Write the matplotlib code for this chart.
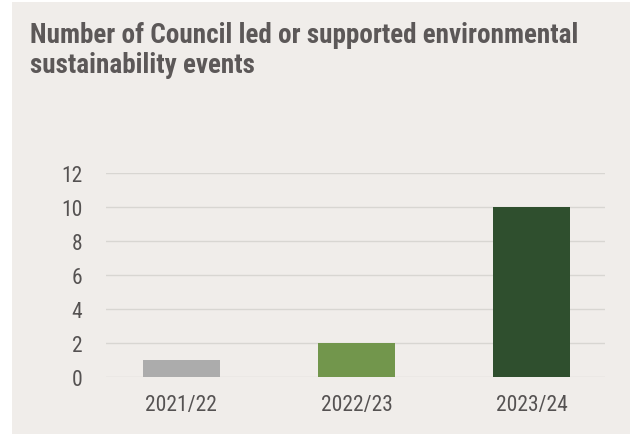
import matplotlib.pyplot as plt
from matplotlib import font_manager
from matplotlib.patches import Rectangle

# event counts per financial year
years = ["2021/22", "2022/23", "2023/24"]
events = [1, 2, 10]
bar_colors = ["#acacac", "#72964c", "#2f4f2e"]
yticks = [0, 2, 4, 6, 8, 10, 12]

title = "Number of Council led or supported environmental\nsustainability events"

bg = "#f0edea"
text_col = "#555252"

# prefer a narrow face if one is installed
names = {f.name for f in font_manager.fontManager.ttflist}
narrow = [n for n in ["Roboto Condensed", "Liberation Sans Narrow", "DejaVu Sans Condensed"] if n in names]
plt.rcParams["font.family"] = narrow + ["DejaVu Sans"]
plt.rcParams["font.stretch"] = "condensed"

fig = plt.figure(figsize=(6.3, 4.35), dpi=100)
fig.patch.set_facecolor("white")
fig.patches.append(Rectangle((12 / 630, 0), 1 - 12 / 630, 1 - 3 / 435,
                             transform=fig.transFigure, facecolor=bg,
                             edgecolor="none", zorder=-1))

ax = fig.add_axes([106 / 630, 1 - 378 / 435, 499 / 630, 204 / 435])
ax.set_zorder(2)
ax.patch.set_alpha(0)
ax.bar(range(len(years)), events, width=0.44, color=bar_colors, zorder=3)

ax.set_xlim(-0.43, 2.42)
ax.set_ylim(0, 12)
ax.set_yticks(yticks)
ax.set_xticks(range(len(years)))
ax.set_xticklabels(years)
ax.grid(axis="y", color="#d8d6d2", linewidth=1, zorder=0)
for s in ax.spines.values():
    s.set_visible(False)
ax.tick_params(axis="both", length=0, labelsize=15.5, labelcolor=text_col)
ax.tick_params(axis="y", pad=17)
ax.tick_params(axis="x", pad=12)

fig.text(30 / 630, 1 - 22 / 435, title, ha="left", va="top",
         fontsize=19.5, fontweight="bold", color="#5c5858", linespacing=1.12,
         zorder=3)

fig.savefig("out.png", dpi=100, facecolor=fig.get_facecolor())
